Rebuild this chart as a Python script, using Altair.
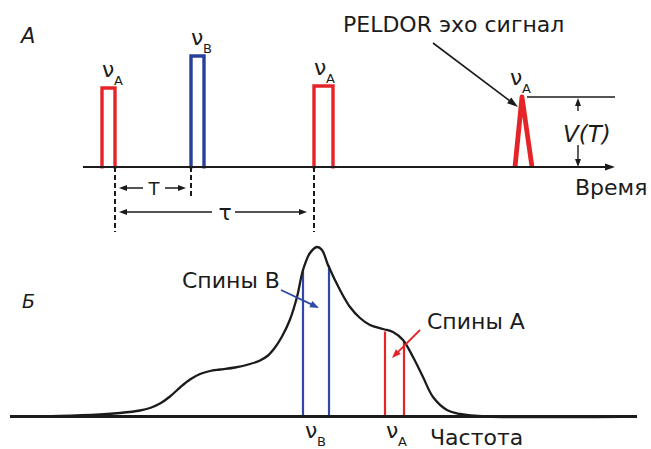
import math
import altair as alt
import pandas as pd

RED = "#e52428"
BLUE = "#28409c"
BLUE_LINE = "#2f4aa6"
INK = "#1b1b1b"
FONT = "DejaVu Sans"

# ---- A: PELDOR pulse sequence (time in arbitrary units, t = 0 at the end of the first nu_A pulse)
pulse_start = [-13, 76, 199]
pulse_end = [0, 89, 218]
pulse_height = [79, 111, 81]
pulse_freq = ["A", "B", "A"]

echo_time = [400, 407, 417]
echo_amp = [0, 70, 0]

delay_T = 76      # nu_B pump pulse, measured from the first nu_A pulse
delay_tau = 199   # nu_A refocusing pulse
time_end = 500

# ---- Б: EPR spectrum (frequency in arbitrary units)
spec_freq = [10, 60, 100, 120, 140, 150, 160, 170, 180, 190, 200, 210, 220, 235,
             250, 260, 268, 275, 282, 290, 297, 303, 310, 317, 322, 328, 340, 350,
             360, 370, 383, 393, 403, 413, 423, 433, 447, 460, 487, 637]
spec_int = [0, 0.5, 2, 3.5, 6, 8.5, 13, 20, 29, 37, 42.5, 45.5, 47, 49,
            52.5, 56, 61, 69, 80, 97, 119.5, 146.5, 163.5, 169.5, 166.5, 151.5, 126.5, 109.5,
            98.5, 91.5, 87.5, 84.5, 76.5, 59.5, 39.5, 19.5, 6.5, 2.5, 0, 0]
spins_B_freq = [303, 329]
spins_B_int = [147, 151]
spins_A_freq = [385, 404]
spins_A_int = [85, 75]

xA = alt.Scale(domain=[-115, 536], nice=False, zero=False)
yA = alt.Scale(domain=[-73, 167], nice=False, zero=False)
xB = alt.Scale(domain=[0, 651], nice=False, zero=False)
yB = alt.Scale(domain=[-32.5, 176.5], nice=False, zero=False)


def pos(xs, ys, xf="x", yf="y"):
    return dict(x=alt.X(f"{xf}:Q", scale=xs, axis=None),
                y=alt.Y(f"{yf}:Q", scale=ys, axis=None))


def rules(segs, xs, ys, **mark):
    df = pd.DataFrame(segs, columns=["x", "y", "x2", "y2"])
    return alt.Chart(df).mark_rule(**mark).encode(**pos(xs, ys), x2="x2:Q", y2="y2:Q")


def heads(tips, xs, ys, color, length, half):
    # tips: (x, y, dx, dy) -- tip position and pointing direction
    df = pd.DataFrame(tips, columns=["x", "y", "dx", "dy"])
    df["a"] = [math.degrees(math.atan2(dx, dy)) % 360 for dx, dy in zip(df.dx, df.dy)]
    shape = f"M0,0L{-half / length:.3f},1L{half / length:.3f},1Z"
    return alt.Chart(df).mark_point(
        shape=shape, filled=True, size=(2 * length) ** 2, color=color,
        opacity=1, strokeWidth=0
    ).encode(**pos(xs, ys), angle=alt.Angle("a:Q", scale=None))


def arrow(x0, y0, x1, y1, xs, ys, color, width, length, half):
    d = math.hypot(x1 - x0, y1 - y0)
    ux, uy = (x1 - x0) / d, (y1 - y0) / d
    ex, ey = x1 - ux * length * 0.6, y1 - uy * length * 0.6
    return [rules([(x0, y0, ex, ey)], xs, ys, color=color, strokeWidth=width),
            heads([(x1, y1, ux, uy)], xs, ys, color, length, half)]


def label(x, y, s, xs, ys, size=22, italic=False, align="left", color=INK):
    df = pd.DataFrame({"x": [x], "y": [y], "t": [s]})
    return alt.Chart(df).mark_text(
        font=FONT, fontSize=size, fontStyle="italic" if italic else "normal",
        align=align, baseline="alphabetic", color=color
    ).encode(**pos(xs, ys), text="t:N")


def nu(x, y, sub, xs, ys):
    return [label(x, y, "ν", xs, ys, size=22),
            label(x + 12, y - 8, sub, xs, ys, size=13)]


# ---------------- panel A ----------------
rows = []
for i, (s, e, h, f) in enumerate(zip(pulse_start, pulse_end, pulse_height, pulse_freq)):
    for k, (t, a) in enumerate([(s, -1.5), (s, h), (e, h), (e, -1.5)]):
        rows.append(dict(pulse=i, k=k, x=t, y=a, freq=f))
pulses = alt.Chart(pd.DataFrame(rows)).mark_line(strokeWidth=3.4, strokeJoin="miter").encode(
    **pos(xA, yA), detail="pulse:N", order="k:Q",
    color=alt.Color("freq:N", scale=alt.Scale(domain=["A", "B"], range=[RED, BLUE]), legend=None))

echo = alt.Chart(pd.DataFrame({"x": echo_time, "y": echo_amp, "k": [0, 1, 2]})).mark_line(
    strokeWidth=4.8, strokeJoin="round", color=RED).encode(**pos(xA, yA), order="k:Q")

peak_t, peak_a = echo_time[1], echo_amp[1]
layersA = [pulses, echo]
layersA.append(rules([(pulse_end[0], 0, pulse_end[0], -65),
                      (pulse_end[0] + delay_T, 0, pulse_end[0] + delay_T, -31),
                      (delay_tau, 0, delay_tau, -65)],
                     xA, yA, color=INK, strokeWidth=2, strokeDash=[5, 3]))
# time axis and echo level
layersA += arrow(-32, 0, time_end, 0, xA, yA, INK, 2, 10, 3.5)
layersA.append(rules([(peak_t + 5, peak_a, time_end, peak_a)], xA, yA, color=INK, strokeWidth=1.6))
# V(T) markers
layersA += arrow(463, 56, 463, peak_a - 1, xA, yA, INK, 1.4, 8, 3)
layersA += arrow(463, 22, 463, 0, xA, yA, INK, 1.4, 8, 3)
# T and tau spans
layersA += arrow(28, -21, 4, -21, xA, yA, INK, 1.5, 8, 3)
layersA += arrow(50, -21, 71, -21, xA, yA, INK, 1.5, 8, 3)
layersA += arrow(97, -45, 4, -45, xA, yA, INK, 1.5, 8, 3)
layersA += arrow(120, -45, 192, -45, xA, yA, INK, 1.5, 8, 3)
# echo pointer
layersA += arrow(318, 124, 403, 60, xA, yA, INK, 1.6, 11, 3.5)

layersA += [
    label(-94, 124, "A", xA, yA, size=21, italic=True),
    label(228, 135, "PELDOR эхо сигнал", xA, yA),
    label(460, -28, "Время", xA, yA),
    label(448, 25, "V(T)", xA, yA, size=23, italic=True),
    label(39, -28, "T", xA, yA, size=18, align="center"),
    label(110, -53, "τ", xA, yA, size=22, align="center"),
]
for s, h, f in zip(pulse_start, pulse_height, pulse_freq):
    layersA += nu(s, h + 11, f, xA, yA)
layersA += nu(peak_t - 12, peak_a + 12, "A", xA, yA)

panelA = alt.layer(*layersA).properties(width=651, height=240)

# ---------------- panel B ----------------
layersB = []
layersB.append(rules([(f, 0, f, a) for f, a in zip(spins_B_freq, spins_B_int)],
                     xB, yB, color=BLUE_LINE, strokeWidth=2.2))
layersB.append(rules([(f, 0, f, a) for f, a in zip(spins_A_freq, spins_A_int)],
                     xB, yB, color=RED, strokeWidth=2.2))
layersB.append(alt.Chart(pd.DataFrame({"x": spec_freq, "y": spec_int})).mark_line(
    color=INK, strokeWidth=2.3, interpolate="catmull-rom").encode(**pos(xB, yB)))
layersB.append(rules([(spec_freq[0], 0, spec_freq[-1], 0)], xB, yB, color=INK, strokeWidth=3))
layersB += arrow(281, 126.5, 319, 108.5, xB, yB, BLUE_LINE, 1.8, 9, 3.5)
layersB += arrow(420, 86.5, 392, 58.5, xB, yB, RED, 1.8, 9, 3.5)
layersB += [
    label(22, 108.5, "Б", xB, yB, size=19, italic=True),
    label(182, 128.5, "Спины B", xB, yB),
    label(427, 87.5, "Спины A", xB, yB),
    label(430, -28.5, "Частота", xB, yB),
]
layersB += nu(305, -21, "B", xB, yB)
layersB += nu(386, -21, "A", xB, yB)

panelB = alt.layer(*layersB).properties(width=651, height=209)

chart = alt.vconcat(panelA, panelB, spacing=0, bounds="flush").properties(
    padding=0, background="white"
).configure_view(stroke=None)

chart.save("out.html", embed_options={"renderer": "svg", "actions": False})
